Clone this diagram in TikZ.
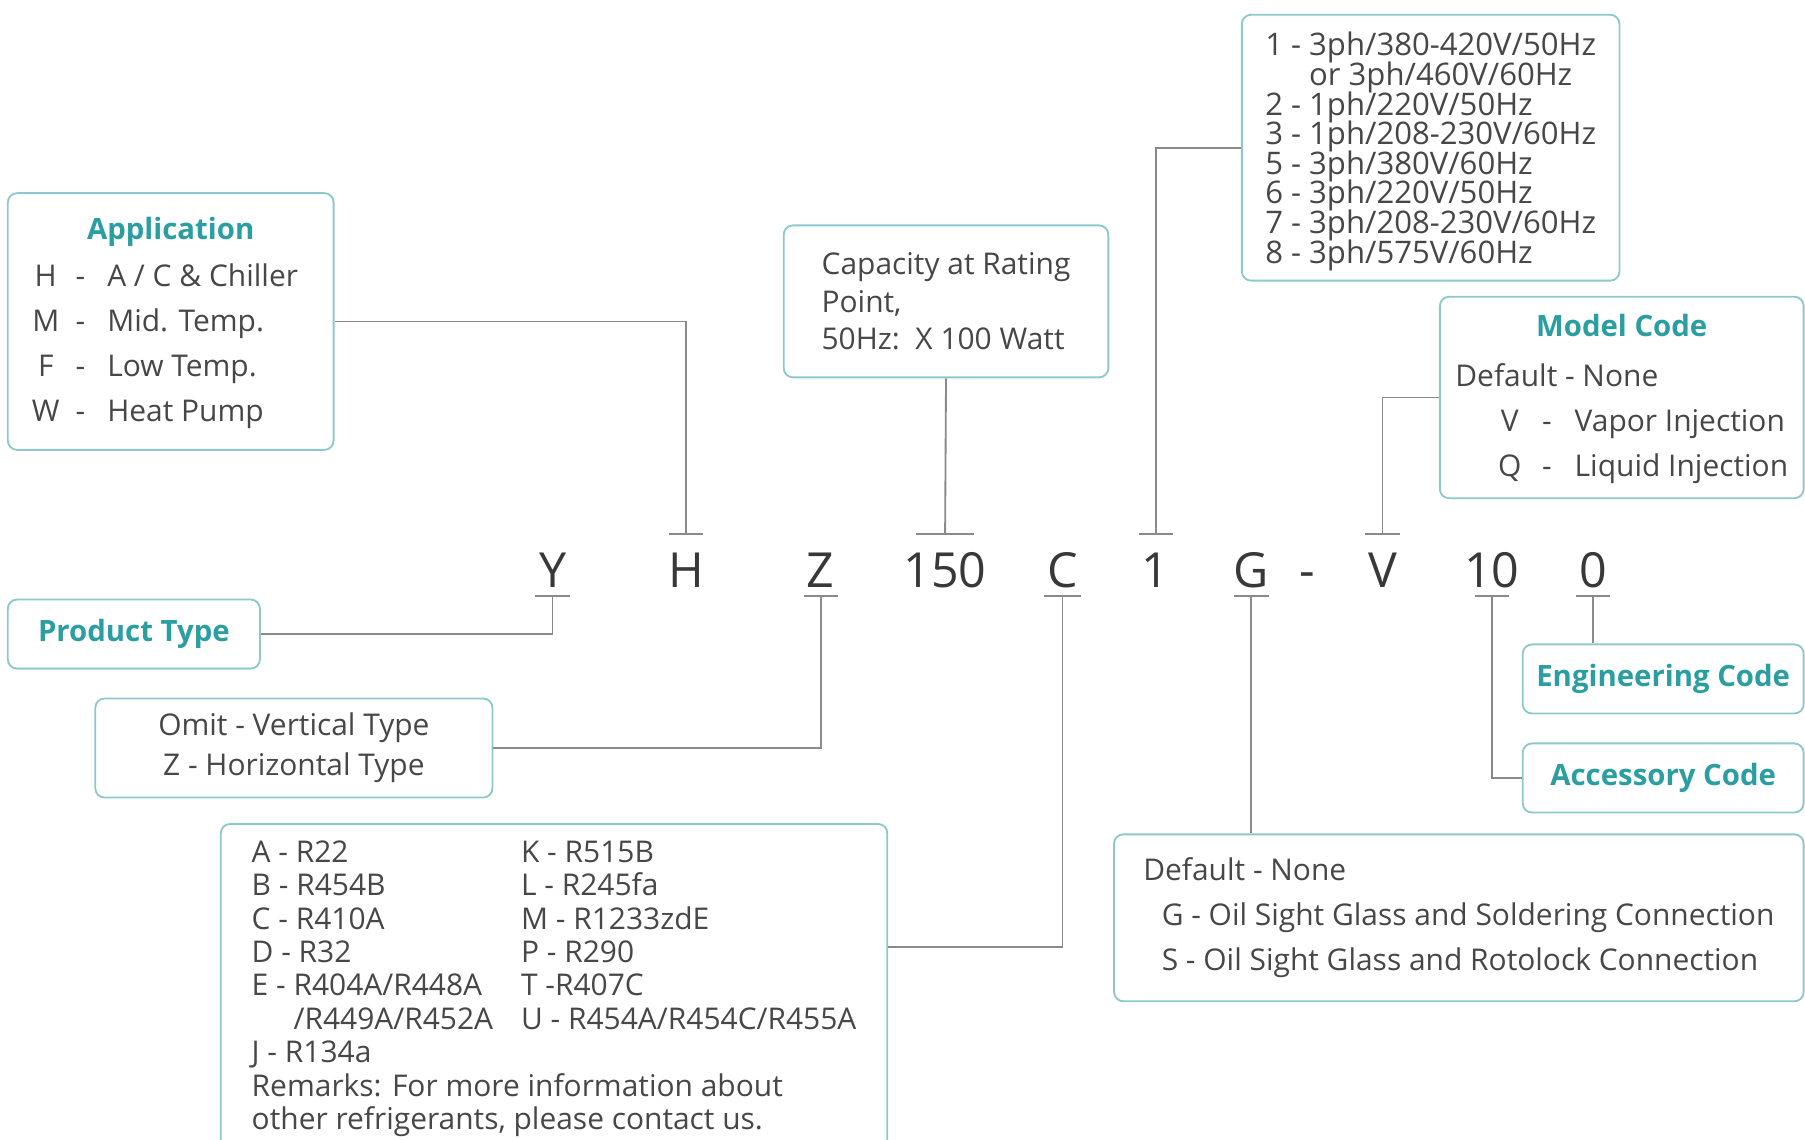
\documentclass[tikz,border=0pt]{standalone}
\usepackage{fontspec}
\setmainfont{Open Sans}
\usepackage{array}

\definecolor{boxline}{HTML}{8EC8CC}
\definecolor{titleteal}{HTML}{2B9EA1}
\definecolor{bodytext}{HTML}{474747}
\definecolor{codetext}{HTML}{383838}
\definecolor{linegray}{HTML}{8A8A8A}

\newcommand{\boxtitle}[1]{\textcolor{titleteal}{\bfseries #1}}
\newcommand{\flatline}[1]{\raisebox{0pt}[\height][0pt]{#1}}

\begin{document}
\begin{tikzpicture}[
  x=0.5pt, y=-0.5pt,
  box/.style={draw=boxline, line width=0.8pt, rounded corners=4pt, fill=white,
    anchor=north west, inner sep=0pt, text=bodytext,
    font=\fontsize{13}{19.5}\selectfont},
  heading/.style={font=\fontsize{12.75}{17}\selectfont\bfseries, text=titleteal},
  code/.style={font=\fontsize{21}{21}\selectfont, text=codetext, inner sep=0pt,
    text height=23pt, text depth=3.5pt, anchor=base},
  link/.style={draw=linegray, line width=0.8pt}
]
\clip (0,0) rectangle (1568,990);

% model code letters
\node[code] (nY)   at (480,510)  {Y};
\node[code] (nH)   at (596,510)  {H};
\node[code] (nZ)   at (713,510)  {Z};
\node[code] (n150) at (821,510)  {150};
\node[code] (nC)   at (923,510)  {C};
\node[code] (n1)   at (1004,510) {1};
\node[code] (nG)   at (1087,510) {G};
\node[code] (nDash) at (1136,510) {-};
\node[code] (nV)   at (1201,510) {V};
\node[code] (n10)  at (1296,510) {10};
\node[code] (n0)   at (1384,510) {0};

% ticks
\draw[link] ([xshift=-7.5pt]nH.north) -- ([xshift=7.5pt]nH.north);
\draw[link] ([xshift=-12.5pt]n150.north) -- ([xshift=12.5pt]n150.north);
\draw[link] ([xshift=-7.5pt]n1.north) -- ([xshift=7.5pt]n1.north);
\draw[link] ([xshift=-7.5pt]nV.north) -- ([xshift=7.5pt]nV.north);
\draw[link] ([xshift=-7.5pt]nY.south) -- ([xshift=7.5pt]nY.south);
\draw[link] ([xshift=-7.5pt]nZ.south) -- ([xshift=7.5pt]nZ.south);
\draw[link] ([xshift=-8pt]nC.south) -- ([xshift=8pt]nC.south);
\draw[link] ([xshift=-7.5pt]nG.south) -- ([xshift=7.5pt]nG.south);
\draw[link] ([xshift=-7.5pt]n10.south) -- ([xshift=7.5pt]n10.south);
\draw[link] ([xshift=-7.5pt]n0.south) -- ([xshift=7.5pt]n0.south);

% boxes
\node[box, minimum width=141.5pt, minimum height=111.5pt] (app) at (6,167) {%
  \begin{tabular}{@{}c@{\hspace{7pt}}c@{\hspace{9.5pt}}l@{\hspace{5pt}}}
  \multicolumn{3}{@{}c@{}}{\boxtitle{\fontsize{12.75}{17}\selectfont Application}}\\[1pt]
  H & - & A / C \& Chiller\\
  M & - & Mid. Temp.\\
  F & - & Low Temp.\\
  W & - & Heat Pump
  \end{tabular}};

\node[box, heading, minimum width=109.5pt, minimum height=30pt] (prod) at (6,520) {Product Type};

\node[box, align=center, font=\fontsize{13}{17.5}\selectfont,
  minimum width=172.5pt, minimum height=43pt] (omit) at (82,606)
  {Omit - Vertical Type\\Z - Horizontal Type};

\node[box, font=\fontsize{13}{14.5}\selectfont, minimum width=289.5pt,
  inner ysep=6.5pt] (refr) at (191,715) {%
  \begin{tabular}{@{}p{117pt}@{}l@{}}
  A - R22 & K - R515B\\
  B - R454B & L - R245fa\\
  C - R410A & M - R1233zdE\\
  D - R32 & P - R290\\
  E - R404A/R448A & T -R407C\\
  \phantom{E - }/R449A/R452A & U - R454A/R454C/R455A\\
  J - R134a & \\
  \multicolumn{2}{@{}l@{}}{Remarks: For more information about}\\
  \multicolumn{2}{@{}l@{}}{other refrigerants, please contact us.}\\[20pt]
  \end{tabular}};

\node[box, align=left, font=\fontsize{13}{16.25}\selectfont,
  minimum width=141pt, minimum height=66pt] (cap) at (680,195)
  {Capacity at Rating\\Point,\\50Hz:\ \ X 100 Watt};

\node[box, align=left, font=\fontsize{13.5}{12.85}\selectfont,
  minimum width=164pt, minimum height=115.5pt] (volt) at (1078,12)
  {\flatline{1 - 3ph/380-420V/50Hz}\\
   \flatline{\hphantom{1 - }or 3ph/460V/60Hz}\\
   \flatline{2 - 1ph/220V/50Hz}\\
   \flatline{3 - 1ph/208-230V/60Hz}\\
   \flatline{5 - 3ph/380V/60Hz}\\
   \flatline{6 - 3ph/220V/50Hz}\\
   \flatline{7 - 3ph/208-230V/60Hz}\\
   \flatline{8 - 3ph/575V/60Hz}};

\node[box, minimum width=158pt, minimum height=87.5pt] (model) at (1250,257) {%
  \begin{tabular}{@{\hspace{18.5pt}}c@{\hspace{9pt}}c@{\hspace{10pt}}l@{}}
  \multicolumn{3}{@{}c@{}}{\boxtitle{\fontsize{12.75}{17}\selectfont Model Code}}\\[2.5pt]
  \multicolumn{3}{@{}l@{}}{Default - None}\\
  V & - & Vapor Injection\\
  Q & - & Liquid Injection
  \end{tabular}};

\node[box, heading, minimum width=122pt, minimum height=30pt] (eng) at (1322,559) {Engineering Code};
\node[box, heading, minimum width=122pt, minimum height=30pt] (acc) at (1322,645) {Accessory Code};

\node[box, align=left, minimum width=299.5pt, minimum height=72.5pt] (conn) at (967,724)
  {Default - None\\
   \hspace{8pt}G - Oil Sight Glass and Soldering Connection\\
   \hspace{8pt}S - Oil Sight Glass and Rotolock Connection};

% connectors
\draw[link] (app.east) -| (nH.north);
\draw[link] (cap.south) -- (n150.north);
\draw[link] (volt.west) -| (n1.north);
\draw[link] (model.west) -| (nV.north);
\draw[link] (prod.east) -| (nY.south);
\draw[link] (omit.east) -| (nZ.south);
\draw[link] ([yshift=-54pt]refr.north east) -| (nC.south);
\draw[link] (nG.south) -- (nG.south |- conn.north);
\draw[link] (acc.west) -| (n10.south);
\draw[link] (n0.south) -- (n0.south |- eng.north);
\end{tikzpicture}
\end{document}
